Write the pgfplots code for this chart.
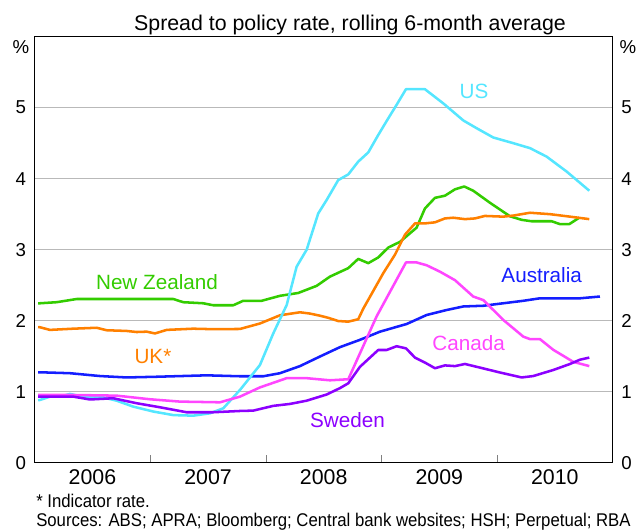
\documentclass[border=0pt]{standalone}
\usepackage{fontspec}
\setmainfont{Liberation Sans}
\newfontfamily\narrowfont[FakeStretch=0.91]{Liberation Sans}
\usepackage{pgfplots}
\pgfplotsset{compat=1.18}
\pgfplotsset{/pgf/number format/assume math mode=true}
\definecolor{cUS}{RGB}{85,230,255}
\definecolor{cNZ}{RGB}{51,204,0}
\definecolor{cUK}{RGB}{255,128,0}
\definecolor{cAU}{RGB}{20,30,255}
\definecolor{cCA}{RGB}{255,70,255}
\definecolor{cSE}{RGB}{140,0,255}
\definecolor{cGrid}{RGB}{185,185,185}
\begin{document}
\begin{tikzpicture}
\useasboundingbox (-26.0pt,-51.2pt) rectangle (454pt,347pt);
\begin{axis}[
  scale only axis, width=433.5pt, height=319.5pt,
  at={(0,0)}, anchor=south west,
  xmin=2006, xmax=2011, ymin=0, ymax=6,
  ytick={0,1,2,3,4,5},
  ymajorgrids, grid style={cGrid, line width=0.8pt},
  xtick={2007,2008,2009,2010}, xticklabels={},
  xtick pos=bottom, tick align=inside,
  major tick length=5.8pt,
  ytick style={draw=none},
  extra x ticks={2006.5,2007.5,2008.5,2009.5,2010.5},
  extra x tick labels={2006,2007,2008,2009,2010},
  extra x tick style={major tick length=0pt, grid=none},
  x tick label style={font=\fontsize{16}{18}\selectfont, anchor=base, yshift=-16.7pt},
  yticklabel pos=left,
  y tick label style={font=\fontsize{14}{16}\selectfont, xshift=-3pt},
  axis line style={line width=1pt},
  every axis plot/.append style={line width=1.9pt, line join=round, mark=none},
  clip=false,
]
\addplot[cAU] coordinates {(2006.03,1.273) (2006.046,1.273) (2006.305,1.26) (2006.565,1.22) (2006.796,1.20) (2007.055,1.21) (2007.488,1.23) (2007.776,1.217) (2007.978,1.217) (2008.122,1.26) (2008.295,1.36) (2008.468,1.495) (2008.641,1.627) (2008.814,1.73) (2008.987,1.845) (2009.218,1.953) (2009.391,2.08) (2009.564,2.15) (2009.708,2.20) (2009.881,2.21) (2010.054,2.245) (2010.227,2.28) (2010.371,2.315) (2010.717,2.315) (2010.890,2.34)};
\addplot[cNZ] coordinates {(2006.03,2.245) (2006.046,2.245) (2006.190,2.26) (2006.363,2.305) (2007.199,2.305) (2007.285,2.26) (2007.458,2.245) (2007.545,2.217) (2007.718,2.217) (2007.804,2.28) (2007.964,2.28) (2008.122,2.35) (2008.280,2.39) (2008.439,2.49) (2008.554,2.62) (2008.713,2.74) (2008.799,2.87) (2008.886,2.81) (2008.972,2.89) (2009.059,3.03) (2009.160,3.11) (2009.304,3.31) (2009.376,3.58) (2009.463,3.73) (2009.549,3.76) (2009.636,3.85) (2009.716,3.89) (2009.794,3.83) (2009.939,3.66) (2010.112,3.47) (2010.213,3.42) (2010.299,3.40) (2010.472,3.40) (2010.544,3.36) (2010.625,3.36) (2010.711,3.45)};
\addplot[cUK] coordinates {(2006.03,1.91) (2006.046,1.907) (2006.132,1.87) (2006.334,1.887) (2006.536,1.90) (2006.623,1.865) (2006.796,1.855) (2006.882,1.84) (2006.969,1.845) (2007.041,1.82) (2007.142,1.87) (2007.372,1.887) (2007.545,1.88) (2007.776,1.883) (2007.949,1.96) (2008.122,2.076) (2008.295,2.118) (2008.381,2.10) (2008.468,2.07) (2008.540,2.04) (2008.626,1.995) (2008.713,1.986) (2008.799,2.02) (2008.843,2.17) (2009.016,2.67) (2009.117,2.93) (2009.203,3.21) (2009.290,3.37) (2009.376,3.37) (2009.463,3.385) (2009.549,3.44) (2009.621,3.45) (2009.722,3.43) (2009.809,3.44) (2009.895,3.475) (2010.054,3.465) (2010.140,3.48) (2010.285,3.52) (2010.458,3.50) (2010.631,3.465) (2010.798,3.43)};
\addplot[cUS] coordinates {(2006.03,0.88) (2006.046,0.883) (2006.132,0.93) (2006.219,0.93) (2006.305,0.968) (2006.450,0.92) (2006.565,0.93) (2006.709,0.873) (2006.853,0.789) (2007.026,0.72) (2007.199,0.67) (2007.372,0.662) (2007.516,0.695) (2007.632,0.766) (2007.776,1.024) (2007.949,1.376) (2008.064,1.82) (2008.180,2.22) (2008.266,2.76) (2008.353,3.0) (2008.453,3.51) (2008.526,3.70) (2008.626,3.98) (2008.713,4.06) (2008.799,4.24) (2008.886,4.37) (2008.972,4.615) (2009.059,4.85) (2009.131,5.04) (2009.212,5.26) (2009.376,5.26) (2009.535,5.06) (2009.708,4.82) (2009.824,4.71) (2009.967,4.58) (2010.140,4.50) (2010.285,4.43) (2010.429,4.31) (2010.602,4.10) (2010.798,3.83)};
\addplot[cCA] coordinates {(2006.03,0.953) (2006.334,0.953) (2006.709,0.944) (2006.997,0.893) (2007.257,0.86) (2007.603,0.85) (2007.776,0.93) (2007.949,1.06) (2008.180,1.19) (2008.353,1.19) (2008.554,1.16) (2008.713,1.175) (2008.958,2.06) (2009.212,2.82) (2009.304,2.82) (2009.391,2.78) (2009.506,2.69) (2009.636,2.57) (2009.794,2.34) (2009.881,2.29) (2010.054,2.01) (2010.227,1.775) (2010.285,1.74) (2010.371,1.74) (2010.486,1.59) (2010.659,1.42) (2010.798,1.36)};
\addplot[cSE] coordinates {(2006.03,0.93) (2006.334,0.93) (2006.478,0.89) (2006.680,0.907) (2006.882,0.837) (2007.084,0.78) (2007.315,0.71) (2007.545,0.71) (2007.776,0.728) (2007.891,0.733) (2008.064,0.80) (2008.208,0.827) (2008.353,0.873) (2008.526,0.96) (2008.641,1.05) (2008.713,1.118) (2008.814,1.35) (2008.972,1.587) (2009.045,1.587) (2009.131,1.64) (2009.212,1.61) (2009.290,1.48) (2009.376,1.41) (2009.463,1.33) (2009.549,1.37) (2009.636,1.36) (2009.722,1.39) (2009.824,1.35) (2010.025,1.27) (2010.213,1.20) (2010.313,1.22) (2010.486,1.305) (2010.631,1.39) (2010.717,1.45) (2010.798,1.48)};
\begin{scope}[every node/.style={font=\fontsize{15.5}{18}\selectfont, inner sep=0pt}]
\node[cUS] at (axis cs:2009.800,5.235) {US};
\node[cNZ] at (axis cs:2007.058,2.55) {New Zealand};
\node[cUK] at (axis cs:2007.023,1.493) {UK*};
\node[cAU] at (axis cs:2010.386,2.644) {Australia};
\node[cCA] at (axis cs:2009.754,1.682) {Canada};
\node[cSE] at (axis cs:2008.706,0.601) {Sweden};
\end{scope}
\end{axis}
\begin{axis}[
  scale only axis, width=433.5pt, height=319.5pt,
  at={(0,0)}, anchor=south west,
  xmin=2006, xmax=2011, ymin=0, ymax=6,
  axis x line=none, axis y line*=right,
  ytick={0,1,2,3,4,5}, ytick style={draw=none},
  y tick label style={font=\fontsize{14}{16}\selectfont, xshift=3pt},
  axis line style={line width=1pt},
]
\end{axis}
\node[font=\fontsize{14}{16}\selectfont] at (-10.3pt,311.8pt) {\%};
\node[font=\fontsize{14}{16}\selectfont] at (444.9pt,311.8pt) {\%};
\node[font=\fontsize{16}{18}\selectfont] at (236.5pt,328.3pt) {Spread to policy rate, rolling 6-month average};
\node[font=\narrowfont\fontsize{13.8}{15}\selectfont, anchor=base west, inner sep=0pt] at (1pt,-34.0pt) {* Indicator rate.};
\node[font=\narrowfont\fontsize{13.8}{15}\selectfont, anchor=base west, inner sep=0pt] at (1pt,-48.0pt) {Sources: ABS; APRA; Bloomberg; Central bank websites; HSH; Perpetual; RBA};
\end{tikzpicture}
\end{document}
